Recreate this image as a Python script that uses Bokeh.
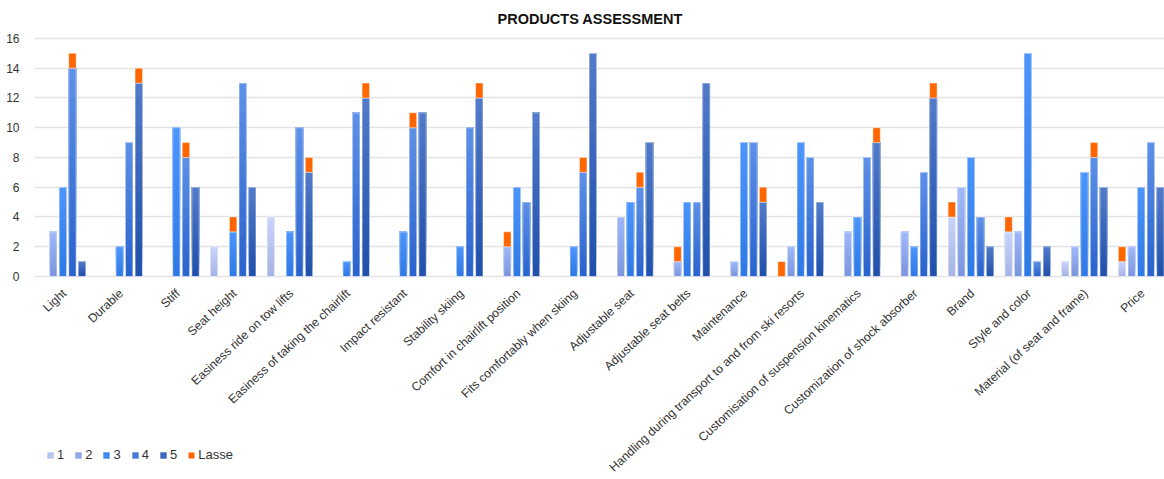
import numpy as np
from bokeh.plotting import figure
from bokeh.models import (ColumnDataSource, Range1d, FixedTicker, Legend,
                          LegendItem)
from bokeh.core.properties import value
from bokeh.embed import file_html
from bokeh.resources import INLINE

# ---- data -------------------------------------------------------------
categories = [
    "Light", "Durable", "Stiff", "Seat height", "Easiness ride on tow lifts",
    "Easiness of taking the chairlift", "Impact resistant", "Stability skiing",
    "Comfort in chairlift position", "Fits comfortably when skiing",
    "Adjustable seat", "Adjustable seat belts", "Maintenance",
    "Handling during transport to and from ski resorts",
    "Customisation of suspension kinematics",
    "Customization of shock absorber", "Brand", "Style and color",
    "Material (of seat and frame)", "Price",
]

# number of answers per rating (1..5) for each category
rating_1 = [0, 0, 0, 2, 4, 0, 0, 0, 0, 0, 0, 0, 0, 0, 0, 0, 4, 3, 1, 1]
rating_2 = [3, 0, 0, 0, 0, 0, 0, 0, 2, 0, 4, 1, 1, 2, 3, 3, 6, 3, 2, 2]
rating_3 = [6, 2, 10, 3, 3, 1, 3, 2, 6, 2, 5, 5, 9, 9, 4, 2, 8, 15, 7, 6]
rating_4 = [14, 9, 8, 13, 10, 11, 10, 10, 5, 7, 6, 5, 9, 8, 8, 7, 4, 1, 8, 9]
rating_5 = [1, 13, 6, 6, 7, 12, 11, 12, 11, 15, 9, 13, 5, 5, 9, 12, 2, 2, 6, 6]

# Lasse's own rating (1..5) for each category
lasse = [4, 5, 4, 3, 5, 5, 4, 5, 2, 4, 4, 2, 5, 1, 5, 5, 1, 1, 4, 1]

series_names = ["1", "2", "3", "4", "5"]
y_ticks = [0, 2, 4, 6, 8, 10, 12, 14, 16]

# ---- styling ------------------------------------------------------------
# (top colour, bottom colour) of the vertical gradient for each rating
gradients = [
    ("#c9d4fb", "#a4b3e4"),
    ("#a0b8f8", "#7b95de"),
    ("#4c95fb", "#2f79e6"),
    ("#5e91e8", "#2862cd"),
    ("#527bc9", "#1f4fab"),
]
lasse_color = "#ff6600"
FONT = "Liberation Sans"
TEXT = "#333333"

SLOT = 0.1686      # distance between bars of one group, in category units
BAR_W = 0.13
N_SLICES = 14


def hex_to_rgb(h):
    h = h.lstrip("#")
    return np.array([int(h[i:i + 2], 16) for i in (0, 2, 4)], dtype=float)


def mix(c_top, c_bot, t):
    a, b = hex_to_rgb(c_top), hex_to_rgb(c_bot)
    c = b + (a - b) * t
    return "#%02x%02x%02x" % tuple(int(round(v)) for v in c)


series = [rating_1, rating_2, rating_3, rating_4, rating_5]
n_cat = len(categories)
centers = np.arange(n_cat) + 0.5

# the frame reaches the bottom edge so the rotated category names and the
# legend can live underneath the zero line
p = figure(width=1164, height=479, output_backend="svg",
           toolbar_location=None, x_axis_location=None,
           x_range=Range1d(0, 19.91), y_range=Range1d(-13.647, 16.134),
           min_border_left=34, min_border_right=0,
           min_border_top=36, min_border_bottom=0)

p.background_fill_color = "white"
p.border_fill_color = "white"
p.outline_line_color = None

legend_items = []

for s, vals in enumerate(series):
    vals = np.asarray(vals, dtype=float)
    xs = centers + (s - 2) * SLOT
    top_c, bot_c = gradients[s]
    xx, bb, tt, cc = [], [], [], []
    for x, v in zip(xs, vals):
        if v <= 0:
            continue
        for k in range(N_SLICES):
            xx.append(x)
            bb.append(v * k / N_SLICES)
            tt.append(v)
            cc.append(mix(top_c, bot_c, (k + 0.5) / N_SLICES))
    src = ColumnDataSource(dict(x=xx, bottom=bb, top=tt, color=cc))
    bars = p.vbar(x="x", bottom="bottom", top="top", width=BAR_W, source=src,
                  fill_color="color", line_color=None)
    # light edge around every bar
    edge = ColumnDataSource(dict(x=xs[vals > 0], top=vals[vals > 0]))
    p.vbar(x="x", top="top", bottom=0, width=BAR_W, source=edge,
           fill_color=None, line_color="#ffffff", line_alpha=0.55,
           line_width=1)
    # legend swatch takes the colour of a mid-height slice
    legend_items.append(LegendItem(label=series_names[s], renderers=[bars],
                                   index=N_SLICES // 2))

# Lasse's answer sits on top of the bar for the rating he gave
vals_all = np.array(series, dtype=float)
lx = [centers[i] + (r - 3) * SLOT for i, r in enumerate(lasse)]
lb = [vals_all[r - 1, i] for i, r in enumerate(lasse)]
lt = [b + 1 for b in lb]
lasse_r = p.vbar(x=lx, bottom=lb, top=lt, width=BAR_W,
                 fill_color=lasse_color, line_color="#ffffff",
                 line_alpha=0.4, line_width=1)
legend_items.append(LegendItem(label="Lasse", renderers=[lasse_r]))

# ---- category names, rotated under the zero line ---------------------------
p.text(x=list(centers), y=[0] * n_cat, text=categories, angle=0.75,
       text_align="right", text_baseline="alphabetic", x_offset=1.5,
       y_offset=15, text_font=value(FONT), text_font_size="12.2px",
       text_color=TEXT)

# ---- y axis -----------------------------------------------------------------
p.yaxis.ticker = FixedTicker(ticks=y_ticks)
p.yaxis.major_label_text_font = FONT
p.yaxis.major_label_text_font_size = "12px"
p.yaxis.major_label_text_color = TEXT
p.yaxis.major_label_standoff = 9
p.yaxis.axis_line_color = None
p.yaxis.major_tick_line_color = None
p.yaxis.minor_tick_line_color = None

p.xgrid.grid_line_color = None
p.ygrid.ticker = FixedTicker(ticks=y_ticks)
p.ygrid.grid_line_color = "#e3e3e3"
p.ygrid.grid_line_width = 1.5

# ---- title ----------------------------------------------------------------
p.title.text = "PRODUCTS ASSESSMENT"
p.title.text_font = FONT
p.title.text_font_size = "14.5px"
p.title.text_font_style = "bold"
p.title.text_color = "#111111"
p.title.align = "left"
p.title.vertical_align = "top"
p.title.offset = 463
p.title.standoff = 16

# ---- legend ---------------------------------------------------------------
legend = Legend(items=legend_items, orientation="horizontal",
                location=(12, 17), glyph_width=8, glyph_height=8,
                label_text_font=FONT, label_text_font_size="13px",
                label_text_color=TEXT, label_standoff=3, spacing=10,
                label_width=4, padding=0, margin=0, border_line_color=None,
                background_fill_alpha=0, label_height=14)
p.add_layout(legend, "center")

open("out.html", "w").write(file_html(p, INLINE))
